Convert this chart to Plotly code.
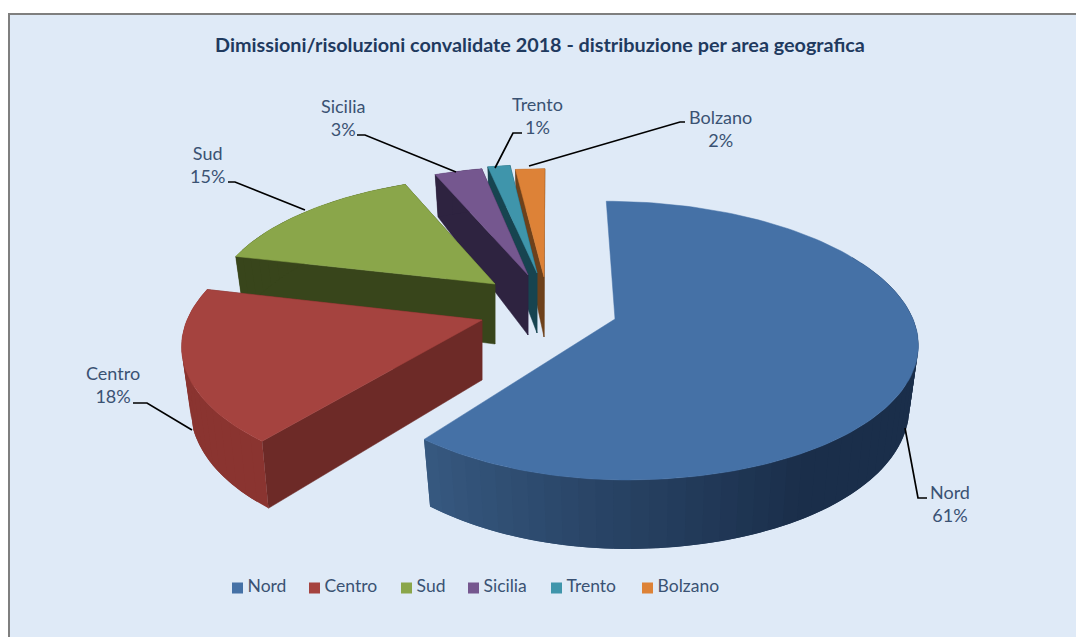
import math
import plotly.graph_objects as go

# ---- data -------------------------------------------------------------
categories = ["Nord", "Centro", "Sud", "Sicilia", "Trento", "Bolzano"]
values = [60.8, 17.9, 14.8, 3.2, 1.45, 1.85]
title_text = "Dimissioni/risoluzioni convalidate 2018 - distribuzione per area geografica"

# ---- style ------------------------------------------------------------
top_colors = ["#4571a6", "#a5433f", "#8aa64a", "#75578f", "#3f95ab", "#dd8237"]
face_colors = ["#1a2f4b", "#6d2a27", "#38451b", "#2e2340", "#174450", "#6e411b"]
rim_from = ["#36587f", "#8f3833", "#38451b", "#2e2340", "#174450", "#6e411b"]
rim_to = ["#1a2e4a", "#8a3430", "#38451b", "#2e2340", "#174450", "#6e411b"]
# exploded position of every slice: apex x, apex y, radius right, radius left, radius y
layout_slices = [
    (615, 319, 298, 280, 136),
    (482, 320, 295, 295, 137),
    (495, 284, 278, 278, 124),
    (528, 275, 275, 275, 125),
    (537, 273, 285, 285, 125),
    (544, 277, 292, 292, 125),
]
PERSP = 0.155
CAM_X = 550
DEPTH = 60
TEXT = "#3a5273"


def radial(theta, sl):
    ax, ay, rr, rl, ry = sl
    c, s_ = math.cos(theta), math.sin(theta)
    return c, (rr if s_ > 0 else rl) * s_, 1 / (1 + PERSP * c)


def top_point(theta, sl):
    c, dx, s = radial(theta, sl)
    return CAM_X + (sl[0] - CAM_X + dx) * s, sl[1] - sl[4] * c * s


def bottom_point(theta, sl):
    c, dx, s = radial(theta, sl)
    d = DEPTH * (1 - (0.32 if c > 0 else 0.15) * c)
    return CAM_X + (sl[0] - CAM_X + 0.97 * dx) * s, sl[1] - sl[4] * c * s + d


def poly(points, color, fig, width=0.5):
    xs = [p[0] for p in points] + [points[0][0]]
    ys = [p[1] for p in points] + [points[0][1]]
    fig.add_trace(go.Scatter(x=xs, y=ys, mode="lines", fill="toself", fillcolor=color,
                             line=dict(color=color, width=width), hoverinfo="skip", showlegend=False))


def mix(a, b, t):
    ca = [int(a[i:i + 2], 16) for i in (1, 3, 5)]
    cb = [int(b[i:i + 2], 16) for i in (1, 3, 5)]
    return "rgb(%d,%d,%d)" % tuple(round(x + (y - x) * t) for x, y in zip(ca, cb))


fig = go.Figure()

total = sum(values)
bounds = [0.0]
for v in values:
    bounds.append(bounds[-1] + v / total * 2 * math.pi)

for i in [5, 4, 3, 2, 1, 0]:
    sl = layout_slices[i]
    t1, t2 = bounds[i], bounds[i + 1]
    apex_top = (sl[0], sl[1])
    apex_bot = (sl[0], sl[1] + DEPTH)
    if i > 0:  # the cut faces of the largest slice are out of sight
        for t in (t2, t1):
            poly([apex_top, top_point(t, sl), bottom_point(t, sl), apex_bot], face_colors[i], fig)
    n = max(2, int((t2 - t1) / math.radians(3)))
    # each strip overlaps the next so no seams show
    for j in range(n):
        a = t1 + (t2 - t1) * j / n
        b = min(t2, t1 + (t2 - t1) * (j + 2) / n)
        if i == 0 and math.cos(a) > 0.5:  # back of the rim stays hidden
            continue
        shade = min(1.0, (t2 - (t1 + (t2 - t1) * (j + 1) / n)) / (t2 - t1) * 3.2)
        poly([top_point(a + (b - a) * q / 4, sl) for q in range(5)]
             + [bottom_point(b - (b - a) * q / 4, sl) for q in range(5)],
             mix(rim_from[i], rim_to[i], shade), fig, width=0)
    m = max(4, int((t2 - t1) / math.radians(1.5)))
    arc = [top_point(t1 + (t2 - t1) * j / m, sl) for j in range(m + 1)]
    poly([apex_top] + arc, top_colors[i], fig)

# legend row: square swatch and name side by side, tight as in the original
legend_x = [237.5, 314.5, 406.5, 473.5, 556.5, 647.5]
for name, col, lx in zip(categories, top_colors, legend_x):
    fig.add_trace(go.Scatter(x=[lx], y=[588], mode="markers+text", name=name, text=["\u2009" + name],
                             textposition="middle right", hoverinfo="skip", showlegend=False,
                             textfont=dict(family="Lato", size=17.5, color=TEXT),
                             marker=dict(symbol="square", size=11, color=col)))

label_pos = {"Nord": (950, 503), "Centro": (113, 384), "Sud": (207, 164),
             "Sicilia": (343, 117), "Trento": (537, 115), "Bolzano": (720, 128)}
annots = []
for name, v in zip(categories, values):
    x, y = label_pos[name]
    annots.append(dict(x=x, y=y, text=f"{name}<br>{round(v / total * 100)}%", showarrow=False,
                       font=dict(family="Lato", size=18, color=TEXT), align="center"))
annots.append(dict(x=540, y=44, text=f"<b>{title_text}</b>", showarrow=False,
                   font=dict(family="Lato", size=19.8, color="#1f3a5f")))

leaders = [
    [(905, 428), (918, 498), (927, 498)],
    [(133, 403), (147, 403), (192, 430)],
    [(228, 182), (235, 182), (305, 210)],
    [(357, 135), (365, 135), (456, 172)],
    [(522, 133), (513, 133), (495, 168)],
    [(529, 166), (680, 122), (685, 122)],
]
shapes = [dict(type="rect", layer="below", x0=9, y0=14, x1=1090, y1=650, fillcolor="#dfeaf7",
               line=dict(color="#7f7f7f", width=2))]
for pts in leaders:
    path = "M " + " L ".join(f"{x},{y}" for x, y in pts)
    shapes.append(dict(type="path", path=path, line=dict(color="black", width=1.7)))

fig.update_layout(
    width=1076, height=637, autosize=False,
    margin=dict(l=0, r=0, t=0, b=0),
    paper_bgcolor="white", plot_bgcolor="white",
    xaxis=dict(range=[0, 1076], visible=False, fixedrange=True),
    yaxis=dict(range=[637, 0], visible=False, fixedrange=True),
    shapes=shapes,
    annotations=annots,
    showlegend=False,
)
fig.write_html("out.html", config={"displayModeBar": False},
               post_script="document.body.style.margin='0';document.documentElement.style.overflow='hidden';")
